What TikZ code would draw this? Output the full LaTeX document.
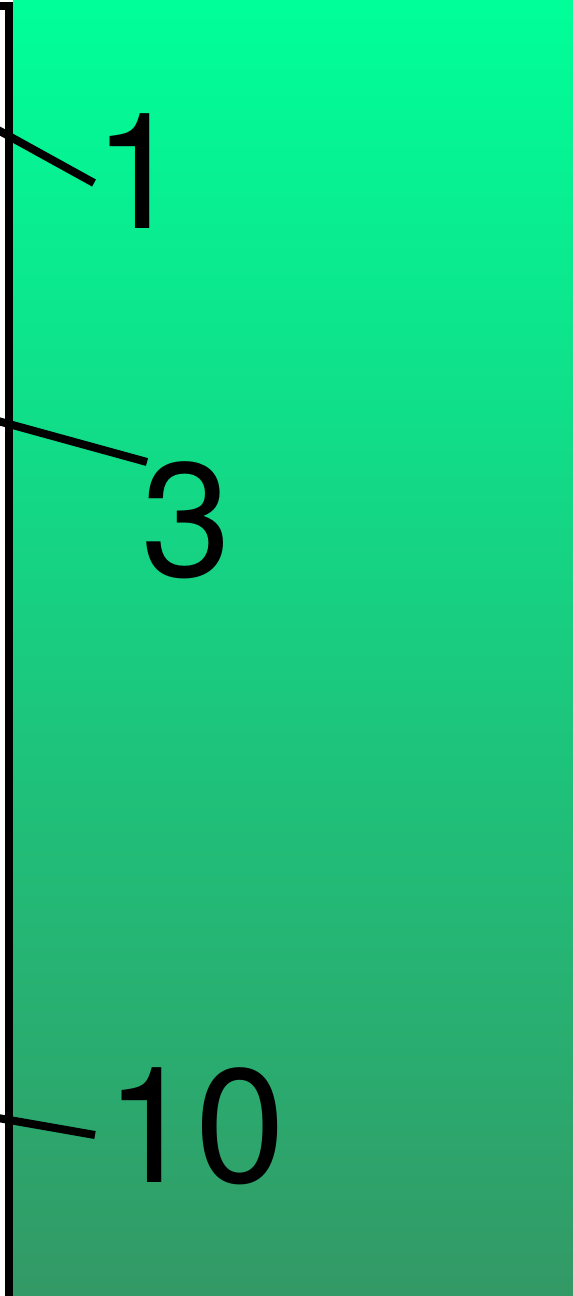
\documentclass[tikz,border=0pt]{standalone}
\usepackage{fontspec}
\setmainfont{TeX Gyre Heros}
\definecolor{topgreen}{RGB}{0,255,153}
\definecolor{midgreen}{RGB}{34,211,134}
\definecolor{botgreen}{RGB}{51,153,102}
\tikzset{
  leader/.style={line width=8pt, black, line cap=butt},
  numlabel/.style={anchor=base west, inner sep=0pt, outer sep=0pt, font=\fontsize{162}{166}\selectfont},
  frameline/.style={line width=8pt, black}
}
\begin{document}
\begin{tikzpicture}[x=1pt,y=-1pt]
  \useasboundingbox (0,0) rectangle (573,1296);
  \fill[white] (0,0) rectangle (573,1296);
  \shade[top color=topgreen, middle color=midgreen, bottom color=botgreen] (13,0) rectangle (573,1296);
  % labels
  \node[numlabel] (n1) at (93,228) {1};
  \node[numlabel] (n3) at (141,576) {3};
  \node[numlabel] (n10) at (105,1182) {10};
  % leader ends
  \coordinate (e1) at (94,183);
  \coordinate (e3) at (147,462);
  \coordinate (e10) at (95,1135);
  \coordinate (s1) at (-2,130);
  \coordinate (s3) at (-2,421);
  \coordinate (s10) at (-2,1118);
  \begin{scope}
    \clip (0,0) rectangle (573,1296);
    \draw[leader] (s1) -- (e1);
    \draw[leader] (s3) -- (e3);
    \draw[leader] (s10) -- (e10);
    % frame
    \draw[frameline] (9,1300) -- (9,5.5) -- (-5,5.5);
  \end{scope}
\end{tikzpicture}
\end{document}
